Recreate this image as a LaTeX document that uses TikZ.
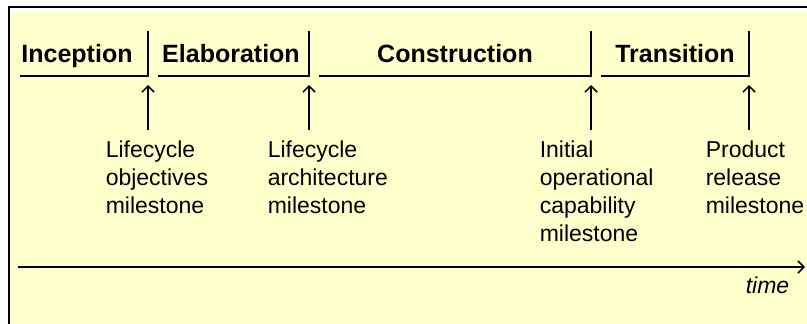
\documentclass[tikz,border=0pt]{standalone}
\usepackage{fontspec}
\setmainfont{Liberation Sans}
\usepackage{tikz}
\usetikzlibrary{positioning}
\usetikzlibrary{arrows.meta}
\usepackage{color}
\definecolor{rupBack}{rgb}{1.0,1.0,0.8}

\begin{document}
\begin{tikzpicture}
[x=1pt, y=-1pt, line width=1.5pt, >={Straight Barb[length=6pt,width=12pt]},
  phase/.style = { font = \fontsize{25}{30}\selectfont\bfseries, inner sep = 0pt, anchor = base },
  mile/.style  = { font = \fontsize{23}{28}\selectfont, align = left, inner sep = 0pt, anchor = north west }
]

% Frame:
\useasboundingbox (0,0) rectangle (807,324);
\fill[rupBack] (10,12) rectangle (807,324);
\draw (9,324) -- (9,7) -- (807,7);

% Phases:
\node[phase] (inc) at ( 77,63) {Inception};
\node[phase] (ela) at (231,63) {Elaboration};
\node[phase] (con) at (455,63) {Construction};
\node[phase] (tra) at (675,63) {Transition};

% Phase brackets:
\coordinate (incEnd) at (148,76);
\coordinate (elaEnd) at (309,76);
\coordinate (conEnd) at (591,76);
\coordinate (traEnd) at (749,76);
\draw ( 20,76) -- (incEnd) -- (148,31);
\draw (158,76) -- (elaEnd) -- (309,31);
\draw (319,76) -- (conEnd) -- (591,31);
\draw (601,76) -- (traEnd) -- (749,31);

% Milestones:
\node[mile] (lco) at (105,140) {Lifecycle\\objectives\\milestone};
\node[mile] (lca) at (267,140) {Lifecycle\\architecture\\milestone};
\node[mile] (ioc) at (539,140) {Initial\\operational\\capability\\milestone};
\node[mile] (prm) at (705,140) {Product\\release\\milestone};

% Arrows up to the phase ends:
\coordinate (lcoTail) at (148,130);
\coordinate (lcaTail) at (309,130);
\coordinate (iocTail) at (591,130);
\coordinate (prmTail) at (749,130);
\draw[->, shorten >= 9pt] (lcoTail) -- (incEnd);
\draw[->, shorten >= 9pt] (lcaTail) -- (elaEnd);
\draw[->, shorten >= 9pt] (iocTail) -- (conEnd);
\draw[->, shorten >= 9pt] (prmTail) -- (traEnd);

% Time axis:
\coordinate (t0) at ( 18,267);
\coordinate (t1) at (805,267);
\draw[->] (t0) -- (t1);
\node[font = \fontsize{23}{28}\selectfont\itshape, inner sep = 0pt, anchor = base east] (time) at (790,293) {time};
\end{tikzpicture}
\end{document}
